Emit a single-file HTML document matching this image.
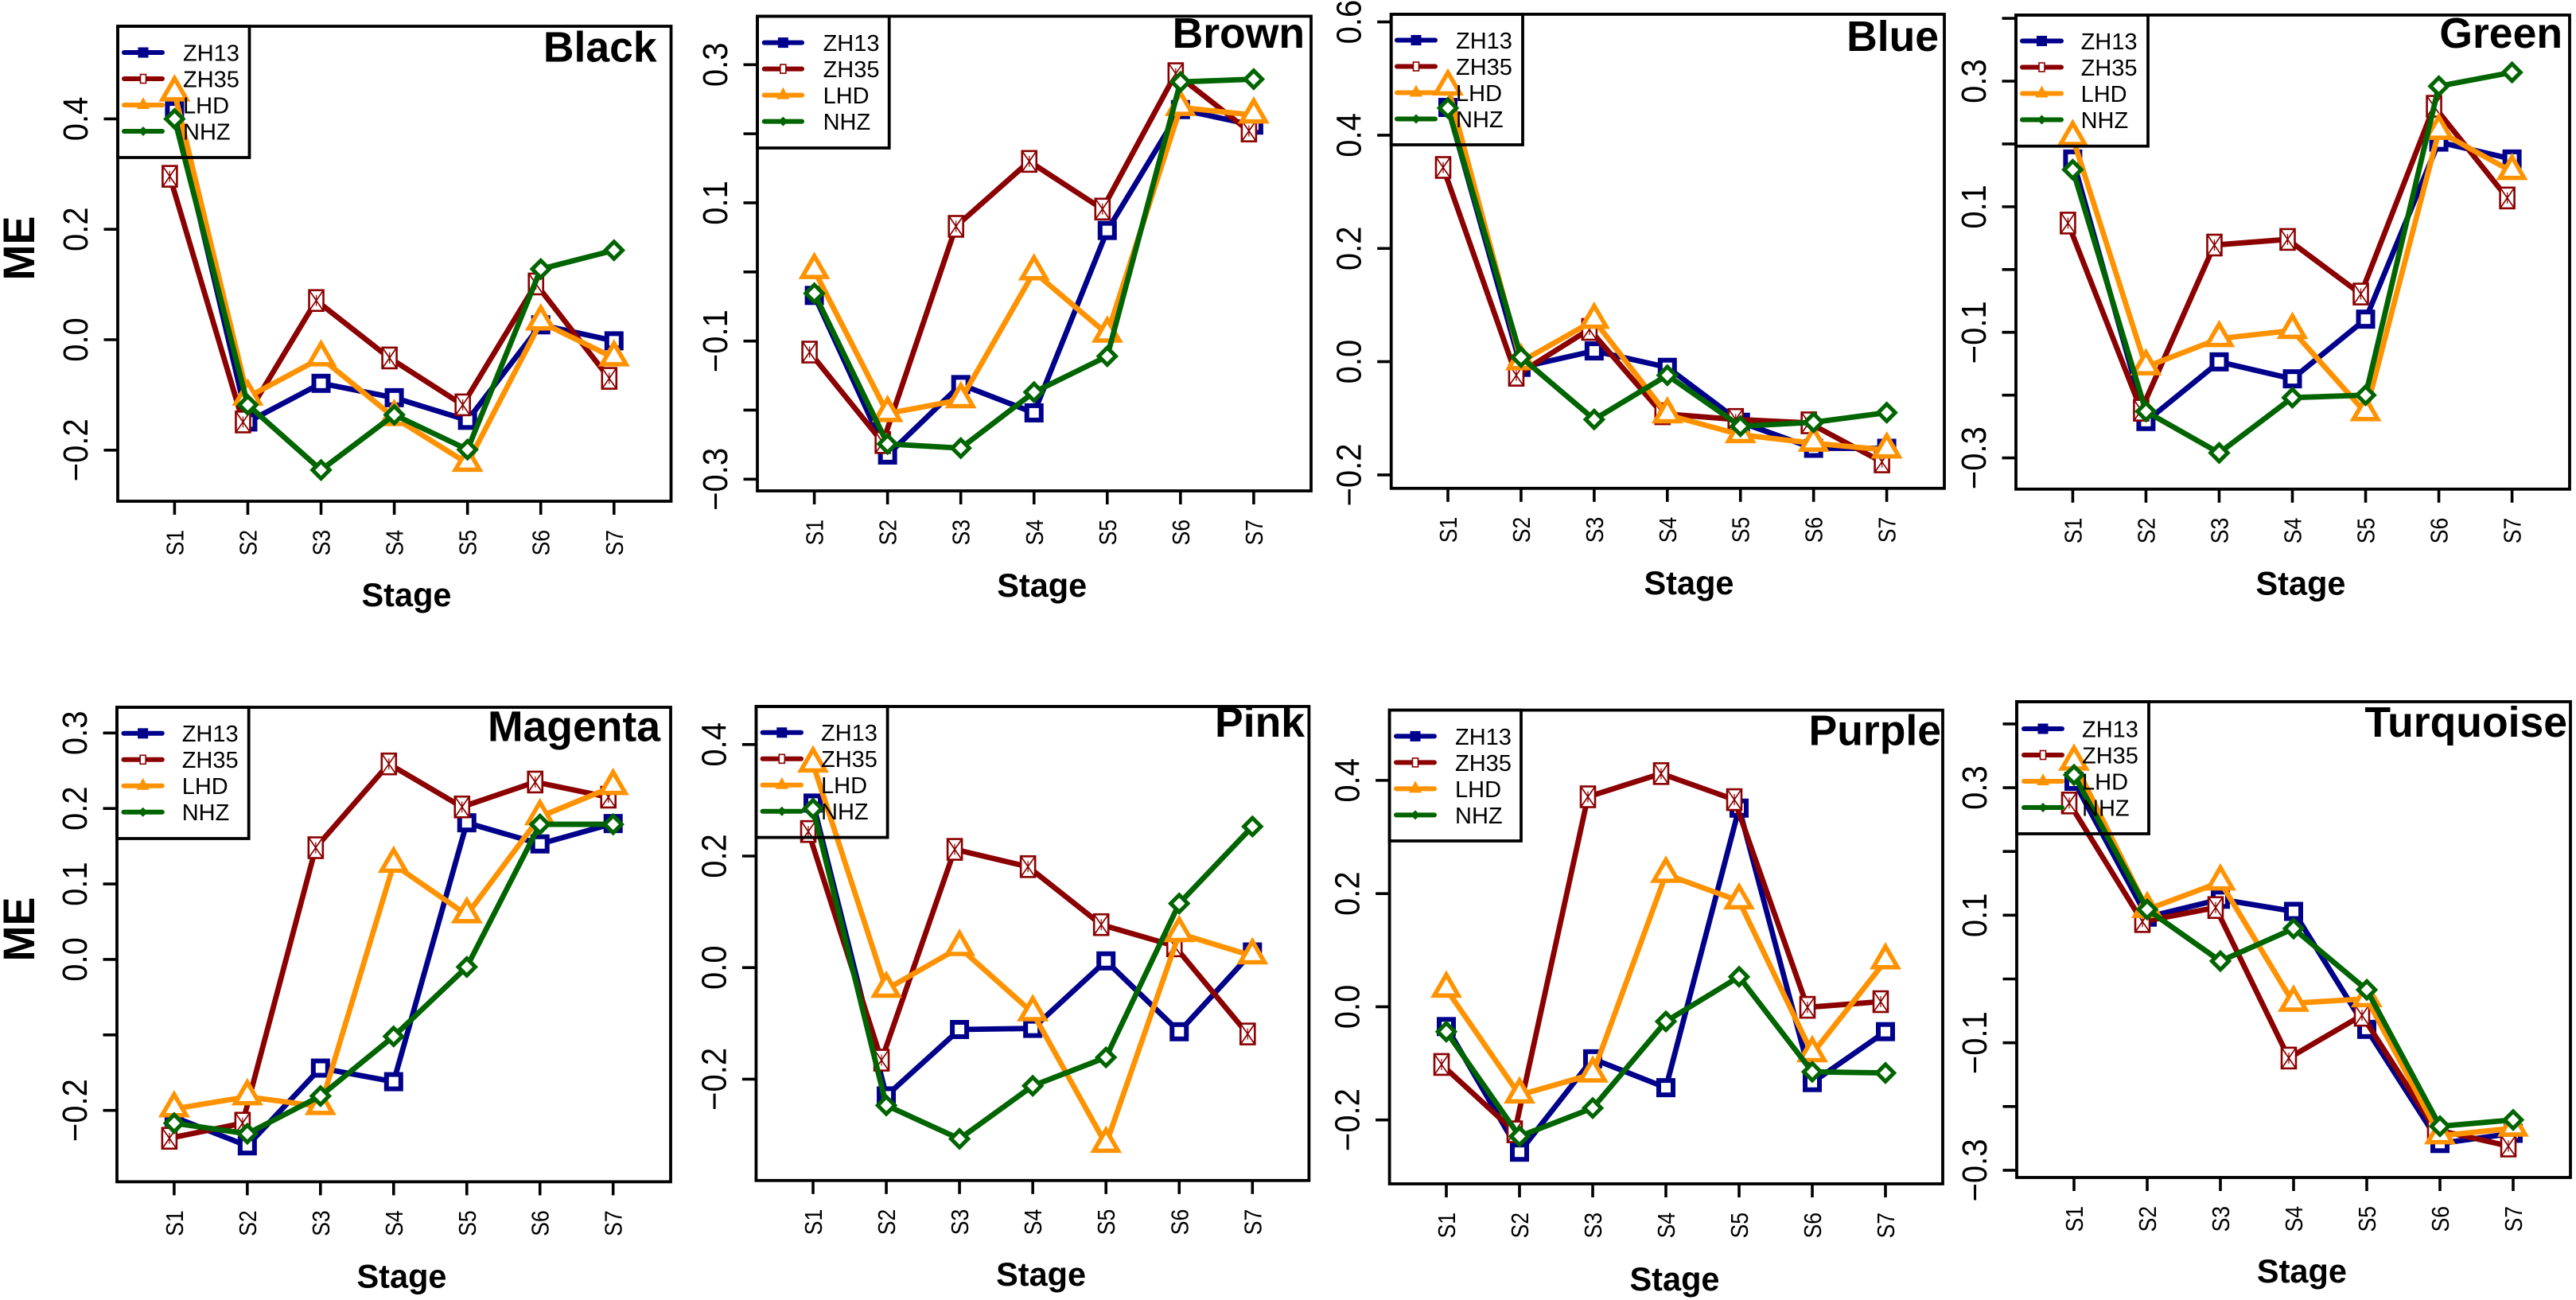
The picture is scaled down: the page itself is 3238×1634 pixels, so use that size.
<!DOCTYPE html>
<html lang="en">
<head>
<meta charset="utf-8">
<title>ME by stage across eight modules</title>
<style>
  html, body { margin: 0; padding: 0; background: #fff; }
  svg { display: block; }
  text { font-family: "Liberation Sans", Arial, sans-serif; fill: #000; }
</style>
</head>
<body>
<svg id="chart" xmlns="http://www.w3.org/2000/svg" width="3238" height="1634" viewBox="0 0 3238 1634">
  <rect x="0" y="0" width="3238" height="1634" fill="#ffffff"></rect>
</svg>
<script>
const categories = ["S1", "S2", "S3", "S4", "S5", "S6", "S7"];
const seriesNames = ["ZH13", "ZH35", "LHD", "NHZ"];

const blackZH13 = [0.415, -0.149, -0.079, -0.105, -0.146, 0.027, -0.002];
const blackZH35 = [0.296, -0.149, 0.071, -0.033, -0.118, 0.101, -0.07];
const blackLHD = [0.447, -0.104, -0.033, -0.141, -0.224, 0.032, -0.033];
const blackNHZ = [0.40, -0.118, -0.236, -0.136, -0.199, 0.128, 0.162];
const blackTicks = [-0.2, 0, 0.2, 0.4];
const blackTickLabels = ["−0.2", "0.0", "0.2", "0.4"];

const brownZH13 = [-0.034, -0.265, -0.163, -0.204, 0.06, 0.235, 0.2125];
const brownZH35 = [-0.116, -0.247, 0.066, 0.16, 0.091, 0.287, 0.204];
const brownLHD = [0.002, -0.205, -0.185, 0.0, -0.09, 0.238, 0.227];
const brownNHZ = [-0.031, -0.249, -0.255, -0.174, -0.122, 0.275, 0.279];
const brownTicks = [-0.3, -0.2, -0.1, 0, 0.1, 0.2, 0.3];
const brownTickLabels = ["−0.3", "", "−0.1", "", "0.1", "", "0.3"];

const blueZH13 = [0.449, -0.01, 0.019, -0.01, -0.107, -0.153, -0.153];
const blueZH35 = [0.343, -0.024, 0.057, -0.092, -0.102, -0.108, -0.177];
const blueLHD = [0.485, 0, 0.073, -0.094, -0.129, -0.144, -0.156];
const blueNHZ = [0.448, 0.008, -0.102, -0.024, -0.114, -0.107, -0.09];
const blueTicks = [-0.2, 0, 0.2, 0.4, 0.6];
const blueTickLabels = ["−0.2", "0.0", "0.2", "0.4", "0.6"];

const greenZH13 = [0.176, -0.242, -0.147, -0.174, -0.079, 0.203, 0.176];
const greenZH35 = [0.074, -0.224, 0.039, 0.048, -0.039, 0.26, 0.114];
const greenLHD = [0.21, -0.155, -0.11, -0.097, -0.228, 0.22, 0.156];
const greenNHZ = [0.159, -0.226, -0.292, -0.204, -0.2, 0.292, 0.314];
const greenTicks = [-0.3, -0.2, -0.1, 0, 0.1, 0.2, 0.3, 0.4];
const greenTickLabels = ["−0.3", "", "−0.1", "", "0.1", "", "0.3", ""];

const magentaZH13 = [-0.209, -0.247, -0.144, -0.162, 0.181, 0.153, 0.18];
const magentaZH35 = [-0.237, -0.217, 0.148, 0.259, 0.202, 0.235, 0.215];
const magentaLHD = [-0.198, -0.182, -0.195, 0.126, 0.059, 0.189, 0.229];
const magentaNHZ = [-0.217, -0.231, -0.181, -0.102, -0.01, 0.179, 0.179];
const magentaTicks = [-0.2, -0.1, 0, 0.1, 0.2, 0.3];
const magentaTickLabels = ["−0.2", "", "0.0", "0.1", "0.2", "0.3"];

const pinkZH13 = [0.295, -0.23, -0.111, -0.109, 0.012, -0.115, 0.028];
const pinkZH35 = [0.244, -0.166, 0.212, 0.181, 0.077, 0.039, -0.119];
const pinkLHD = [0.365, -0.039, 0.036, -0.081, -0.317, 0.061, 0.021];
const pinkNHZ = [0.285, -0.247, -0.307, -0.212, -0.161, 0.115, 0.253];
const pinkTicks = [-0.2, 0, 0.2, 0.4];
const pinkTickLabels = ["−0.2", "0.0", "0.2", "0.4"];

const purpleZH13 = [-0.035, -0.257, -0.092, -0.143, 0.351, -0.134, -0.044];
const purpleZH35 = [-0.102, -0.221, 0.371, 0.412, 0.366, -0.001, 0.009];
const purpleLHD = [0.031, -0.156, -0.119, 0.234, 0.187, -0.083, 0.081];
const purpleNHZ = [-0.044, -0.229, -0.179, -0.026, 0.053, -0.115, -0.117];
const purpleTicks = [-0.2, 0, 0.2, 0.4];
const purpleTickLabels = ["−0.2", "0.0", "0.2", "0.4"];

const turquoiseZH13 = [0.31, 0.097, 0.125, 0.106, -0.079, -0.258, -0.242];
const turquoiseZH35 = [0.276, 0.09, 0.112, -0.124, -0.057, -0.236, -0.262];
const turquoiseLHD = [0.34, 0.109, 0.152, -0.038, -0.031, -0.246, -0.234];
const turquoiseNHZ = [0.32, 0.109, 0.028, 0.079, -0.017, -0.231, -0.221];
const turquoiseTicks = [-0.3, -0.2, -0.1, 0, 0.1, 0.2, 0.3, 0.4];
const turquoiseTickLabels = ["−0.3", "", "−0.1", "", "0.1", "", "0.3", ""];

const SVG_NS = "http://www.w3.org/2000/svg";
const root = document.getElementById("chart");
const COLORS = { ZH13: "#00008b", ZH35: "#8b0000", LHD: "#ff9200", NHZ: "#006400" };

const panels = [
  { key: "black", title: "Black", series: [blackZH13, blackZH35, blackLHD, blackNHZ], ticks: blackTicks, labels: blackTickLabels,
    left: 148, right: 843.5, top: 33, bottom: 630, x1: 219.4, x7: 771.8, yZero: 427, ppu: 693.9,
    legRight: 313.5, legBottom: 198, legY: 66, legX1: 153, legX2: 207, legText: 230,
    titleRight: 825.6, titleBase: 77.5, stageX: 511, stageBase: 762, meY: 312, meX: 42.8 },
  { key: "brown", title: "Brown", series: [brownZH13, brownZH35, brownLHD, brownNHZ], ticks: brownTicks, labels: brownTickLabels,
    left: 952, right: 1648, top: 20.4, bottom: 617, x1: 1023.6, x7: 1575.9, yZero: 341.8, ppu: 868.4,
    legRight: 1117.7, legBottom: 186, legY: 53.6, legX1: 957.7, legX2: 1011, legText: 1034.6,
    titleRight: 1640, titleBase: 60, stageX: 1309.7, stageBase: 750 },
  { key: "blue", title: "Blue", series: [blueZH13, blueZH35, blueLHD, blueNHZ], ticks: blueTicks, labels: blueTickLabels,
    left: 1748.7, right: 2444, top: 17.9, bottom: 613.8, x1: 1820, x7: 2371.6, yZero: 454.6, ppu: 711.7,
    legRight: 1914, legBottom: 182, legY: 50.5, legX1: 1753, legX2: 1807, legText: 1830,
    titleRight: 2437, titleBase: 63.8, stageX: 2123, stageBase: 747 },
  { key: "green", title: "Green", series: [greenZH13, greenZH35, greenLHD, greenNHZ], ticks: greenTicks, labels: greenTickLabels,
    left: 2534, right: 3230, top: 18.9, bottom: 614.8, x1: 2605.4, x7: 3157.6, yZero: 338.8, ppu: 789.3,
    legRight: 2700, legBottom: 183.7, legY: 51.5, legX1: 2539, legX2: 2594, legText: 2615.6,
    titleRight: 3221, titleBase: 60, stageX: 2892, stageBase: 747.5 },
  { key: "magenta", title: "Magenta", series: [magentaZH13, magentaZH35, magentaLHD, magentaNHZ], ticks: magentaTicks, labels: magentaTickLabels,
    left: 147, right: 843, top: 889, bottom: 1485.4, x1: 218.9, x7: 770.7, yZero: 1205.9, ppu: 948.7,
    legRight: 312.7, legBottom: 1054, legY: 921.8, legX1: 152.5, legX2: 206.8, legText: 228.7,
    titleRight: 830, titleBase: 931.5, stageX: 505, stageBase: 1618.7, meY: 1168, meX: 42.8 },
  { key: "pink", title: "Pink", series: [pinkZH13, pinkZH35, pinkLHD, pinkNHZ], ticks: pinkTicks, labels: pinkTickLabels,
    left: 950.4, right: 1645.4, top: 888, bottom: 1483.8, x1: 1022, x7: 1574.3, yZero: 1216.2, ppu: 701,
    legRight: 1115.6, legBottom: 1052.6, legY: 920.8, legX1: 955.6, legX2: 1010, legText: 1032,
    titleRight: 1640, titleBase: 926, stageX: 1308.6, stageBase: 1616 },
  { key: "purple", title: "Purple", series: [purpleZH13, purpleZH35, purpleLHD, purpleNHZ], ticks: purpleTicks, labels: purpleTickLabels,
    left: 1746.6, right: 2442, top: 892.6, bottom: 1488, x1: 1818, x7: 2370, yZero: 1265.4, ppu: 711.3,
    legRight: 1912, legBottom: 1057, legY: 925.4, legX1: 1752, legX2: 1806, legText: 1829,
    titleRight: 2440, titleBase: 936.7, stageX: 2105, stageBase: 1622 },
  { key: "turquoise", title: "Turquoise", series: [turquoiseZH13, turquoiseZH35, turquoiseLHD, turquoiseNHZ], ticks: turquoiseTicks, labels: turquoiseTickLabels,
    left: 2535, right: 3231, top: 882, bottom: 1480, x1: 2607, x7: 3159, yZero: 1230.5, ppu: 801.5,
    legRight: 2701, legBottom: 1048, legY: 916, legX1: 2541, legX2: 2595, legText: 2617,
    titleRight: 3227, titleBase: 926, stageX: 2893.4, stageBase: 1612 }
];

function make(tag, attrs, parent) {
  const node = document.createElementNS(SVG_NS, tag);
  for (const k in attrs) node.setAttribute(k, attrs[k]);
  parent.appendChild(node);
  return node;
}

function xScale(p, index) {
  return p.x1 + (p.x7 - p.x1) * index / (categories.length - 1);
}

function yScale(p, value) {
  return p.yZero - value * p.ppu;
}

function drawSquare(group, cx, cy, name) {
  const el = make("rect", { x: cx - 9, y: cy - 9, width: 18, height: 18, fill: "#fff", stroke: COLORS.ZH13, "stroke-width": 6 }, group);
  
  
}

function drawCrossBox(group, cx, cy, name) {
  const g = make("g", {}, group);
  
  
  make("rect", { x: cx - 9, y: cy - 13, width: 18, height: 26, fill: "#fff", stroke: COLORS.ZH35, "stroke-width": 2.6 }, g);
  make("path", { d: `M${cx - 9} ${cy - 13}L${cx + 9} ${cy + 13}M${cx + 9} ${cy - 13}L${cx - 9} ${cy + 13}`, fill: "none", stroke: COLORS.ZH35, "stroke-width": 1.7 }, g);
  make("path", { d: `M${cx} ${cy - 7}V${cy + 7}`, fill: "none", stroke: COLORS.ZH35, "stroke-width": 1.2 }, g);
}

function drawTriangle(group, cx, cy, name) {
  const el = make("path", { d: `M${cx} ${cy - 18.3}L${cx + 15.2} ${cy + 8}L${cx - 15.2} ${cy + 8}Z`, fill: "#fff", stroke: COLORS.LHD, "stroke-width": 5.5, "stroke-linejoin": "miter" }, group);
  
  
}

function drawDiamond(group, cx, cy, name) {
  const el = make("path", { d: `M${cx} ${cy - 10.7}L${cx + 10.7} ${cy}L${cx} ${cy + 10.7}L${cx - 10.7} ${cy}Z`, fill: "#fff", stroke: COLORS.NHZ, "stroke-width": 5, "stroke-linejoin": "miter" }, group);
  
  
}

const markerFns = [drawSquare, drawCrossBox, drawTriangle, drawDiamond];
const seriesOffsets = [0, -6, 0, 0];

function drawLegendMarker(group, i, cx, cy) {
  let el;
  if (i === 0) {
    el = make("rect", { x: cx - 6.5, y: cy - 6.5, width: 13, height: 13, fill: COLORS.ZH13 }, group);
  } else if (i === 1) {
    el = make("rect", { x: cx - 3.5, y: cy - 5.5, width: 7, height: 11, fill: "#fff", stroke: COLORS.ZH35, "stroke-width": 1.6 }, group);
  } else if (i === 2) {
    el = make("path", { d: `M${cx} ${cy - 10}L${cx + 8} ${cy + 5}L${cx - 8} ${cy + 5}Z`, fill: COLORS.LHD }, group);
  } else {
    el = make("path", { d: `M${cx} ${cy - 6}L${cx + 6} ${cy}L${cx} ${cy + 6}L${cx - 6} ${cy}Z`, fill: COLORS.NHZ }, group);
  }
  
  
}

function drawPanel(p) {
  const g = make("g", {}, root);
  
  

  const frame = make("rect", { x: p.left, y: p.top, width: p.right - p.left, height: p.bottom - p.top, fill: "none", stroke: "#000", "stroke-width": 3.8 }, g);
  
  

  p.ticks.forEach(function (value, i) {
    const y = yScale(p, value);
    const tick = make("line", { x1: p.left - 17.5, x2: p.left, y1: y, y2: y, stroke: "#000", "stroke-width": 3.6 }, g);
    
    
    if (p.labels[i]) {
      const label = make("text", { transform: `translate(${p.left - 38} ${y}) rotate(-90) scale(1 1.08)`, "text-anchor": "middle", "font-size": 40 }, g);
      label.textContent = p.labels[i];
      
      
    }
  });

  categories.forEach(function (cat, i) {
    const x = xScale(p, i);
    const tick = make("line", { x1: x, x2: x, y1: p.bottom, y2: p.bottom + 17, stroke: "#000", "stroke-width": 3.6 }, g);
    
    
    const label = make("text", { transform: `translate(${x + 11} ${p.bottom + 52.2}) rotate(-90) scale(1 1.16)`, "text-anchor": "middle", "font-size": 26.5 }, g);
    label.textContent = cat;
    
    
  });

  p.series.forEach(function (values, s) {
    const sg = make("g", {}, g);
    
    
    const pts = values.map(function (v, i) {
      return [xScale(p, i) + seriesOffsets[s], yScale(p, v)];
    });
    const line = make("polyline", { points: pts.map(function (q) { return q[0] + "," + q[1]; }).join(" "), fill: "none", stroke: COLORS[seriesNames[s]], "stroke-width": 6.8, "stroke-linejoin": "round" }, sg);
    
    
    pts.forEach(function (q, i) {
      markerFns[s](sg, q[0], q[1], p.key + '-point-' + seriesNames[s].toLowerCase() + '-' + categories[i].toLowerCase());
    });
  });

  const leg = make("g", {}, g);
  
  
  const box = make("rect", { x: p.left, y: p.top, width: p.legRight - p.left, height: p.legBottom - p.top, fill: "none", stroke: "#000", "stroke-width": 3.8 }, leg);
  
  
  seriesNames.forEach(function (name, i) {
    const y = p.legY + 33 * i;
    const swatch = make("line", { x1: p.legX1 + 3, x2: p.legX2 - 3, y1: y, y2: y, stroke: COLORS[name], "stroke-width": 6, "stroke-linecap": "round" }, leg);
    
    
    drawLegendMarker(leg, i, (p.legX1 + p.legX2) / 2, y);
    const text = make("text", { x: p.legText, y: y + 10.4, "font-size": 29 }, leg);
    text.textContent = name;
    
    
  });

  const title = make("text", { x: p.titleRight, y: p.titleBase, "text-anchor": "end", "font-size": 53.5, "font-weight": "bold" }, g);
  title.textContent = p.title;
  
  

  const xTitle = make("text", { x: p.stageX, y: p.stageBase, "text-anchor": "middle", "font-size": 41.5, "font-weight": "bold" }, g);
  xTitle.textContent = "Stage";
  
  

  if (p.meY) {
    const yTitle = make("text", { transform: `translate(${p.meX} ${p.meY}) rotate(-90) scale(1 1.03)`, "text-anchor": "middle", "font-size": 54, "font-weight": "bold" }, g);
    yTitle.textContent = "ME";
    
    
  }
}

panels.forEach(drawPanel);
</script>
</body>
</html>
